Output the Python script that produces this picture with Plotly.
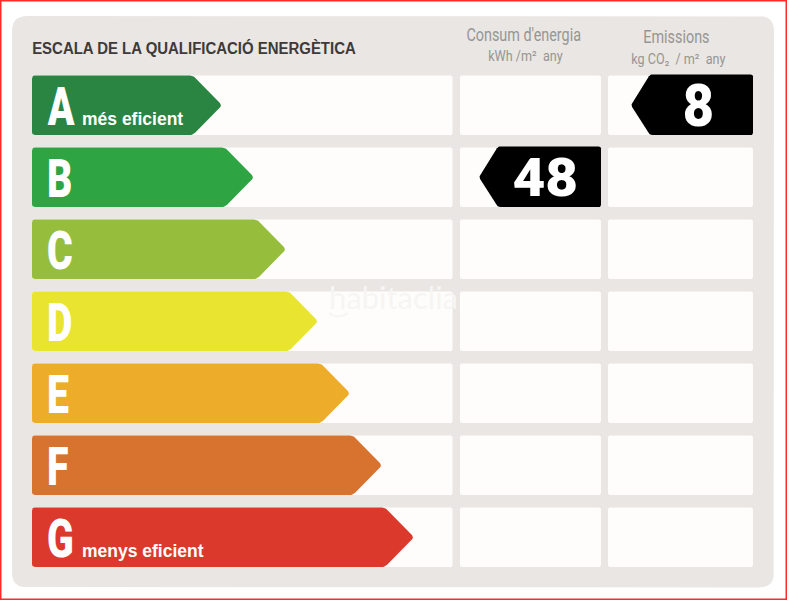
import json
import math
import plotly.graph_objects as go

# --- data ---
grades = ['A', 'B', 'C', 'D', 'E', 'F', 'G']
grade_colors = ['#2a8543', '#2ea443', '#96be3c', '#e9e42f', '#eeac2b', '#d8722f', '#dc392d']
arrow_ends = [221, 253, 285, 317, 349, 381, 413]
grade_notes = {'A': 'més eficient', 'G': 'menys eficient'}

consum_grade = 'B'
consum_value = '48'
emissions_grade = 'A'
emissions_value = '8'

# --- layout constants ---
PANEL = '#e9e6e3'
CELL = '#fefdfb'
ROW_TOP = 75.5
ROW_H = 59.5
ROW_STEP = 72
ARROW_LEFT = 32
HEAD = 29
TAG_HEAD = 19
COLUMNS = [(32, 452.5), (460, 601), (608, 753)]
FONT = 'Roboto'
SANS = 'Liberation Sans'
HEADER_GREY = '#979593'

squeezed = {}  # annotation index -> [x scale, transform origin]


def rounded(points, r):
    # polygon with its corners softened, so the fill doesn't look too sharp
    xs, ys = [], []
    n = len(points)
    for i, (x, y) in enumerate(points):
        px, py = points[i - 1]
        nx, ny = points[(i + 1) % n]
        d1 = math.hypot(px - x, py - y)
        d2 = math.hypot(nx - x, ny - y)
        ax, ay = x + (px - x) * r / d1, y + (py - y) * r / d1
        bx, by = x + (nx - x) * r / d2, y + (ny - y) * r / d2
        for k in range(7):
            t = k / 6
            xs.append((1 - t) ** 2 * ax + 2 * t * (1 - t) * x + t ** 2 * bx)
            ys.append((1 - t) ** 2 * ay + 2 * t * (1 - t) * y + t ** 2 * by)
    xs.append(xs[0])
    ys.append(ys[0])
    return xs, ys


def add_poly(fig, points, color, r=2, name=''):
    xs, ys = rounded(points, r)
    fig.add_trace(go.Scatter(x=xs, y=ys, mode='lines', fill='toself', fillcolor=color,
                             line=dict(width=0, color=color), name=name,
                             hoverinfo='name' if name else 'skip', showlegend=False))


def box(x0, y0, x1, y1):
    return [(x0, y0), (x1, y0), (x1, y1), (x0, y1)]


def add_text(fig, x, y, text, size, color, family=FONT, anchor='center', weight=400, squeeze=None):
    if squeeze:
        # no condensed face is installed, so narrow the text after drawing (see post_script)
        squeezed[len(fig.layout.annotations)] = [squeeze, 'left center' if anchor == 'left' else 'center']
    fig.add_annotation(x=x, y=y, text=text, showarrow=False, xanchor=anchor, yanchor='middle',
                       font=dict(size=size, color=color, family=family, weight=weight))


fig = go.Figure()

# grey card behind everything
add_poly(fig, box(12, 16, 774, 587.5), PANEL, r=15)

for i, grade in enumerate(grades):
    top = ROW_TOP + i * ROW_STEP
    bottom = top + ROW_H
    middle = (top + bottom) / 2

    for x0, x1 in COLUMNS:
        add_poly(fig, box(x0, top, x1, bottom), CELL, r=2)

    end = arrow_ends[i] + 1
    add_poly(fig, [(ARROW_LEFT, top), (end - HEAD, top), (end, middle), (end - HEAD, bottom), (ARROW_LEFT, bottom)],
             grade_colors[i], r=3, name=grade)

    add_text(fig, 45, middle + 2, grade, 53, 'white', anchor='left', weight=900, squeeze=0.74)
    if grade in grade_notes:
        add_text(fig, 80, top + 43, grade_notes[grade], 17.5, 'white', SANS, anchor='left', weight=700)

    # black tags for the two rated values
    if grade == consum_grade:
        x0, x1 = COLUMNS[1]
        add_poly(fig, [(x1, top - 1), (x1, bottom), (x0 + 19 + TAG_HEAD, bottom), (x0 + 19, middle), (x0 + 19 + TAG_HEAD, top - 1)],
                 'black', r=2, name='Consum')
        add_text(fig, 545.5, middle, consum_value, 54, 'white', weight=900, squeeze=1.05)
    if grade == emissions_grade:
        x0, x1 = COLUMNS[2]
        add_poly(fig, [(x1, top - 1), (x1, bottom), (x0 + 23 + TAG_HEAD, bottom), (x0 + 23, middle), (x0 + 23 + TAG_HEAD, top - 1)],
                 'black', r=2, name='Emissions')
        add_text(fig, 698.5, middle, emissions_value, 60, 'white', weight=900, squeeze=0.9)

# headers
add_text(fig, 30, 48, 'ESCALA DE LA QUALIFICACIÓ ENERGÈTICA', 17, '#3e3a39', SANS, anchor='left', weight=700, squeeze=0.88)
add_text(fig, 523, 34, "Consum d'energia", 18, HEADER_GREY, squeeze=0.8)
add_text(fig, 525, 56, 'kWh /m²  any', 14, HEADER_GREY, squeeze=0.9)
add_text(fig, 676, 36, 'Emissions', 18, HEADER_GREY, squeeze=0.8)
add_text(fig, 678, 59, 'kg CO₂  / m²  any', 14, HEADER_GREY, squeeze=0.9)

# faint watermark
add_text(fig, 393, 297, 'habitaclia', 31, '#f6f5f3', 'Lato')
fig.add_shape(type='path', path='M 329 313 Q 338 320 348 313', xref='x', yref='y',
              line=dict(color='#f6f5f3', width=2))

# red frame of the screenshot
fig.add_shape(type='rect', xref='paper', yref='paper', x0=0, y0=0, x1=1, y1=1,
              line=dict(color='#ff2a2a', width=3), fillcolor='rgba(0,0,0,0)')

fig.update_xaxes(range=[0, 787], visible=False, fixedrange=True)
fig.update_yaxes(range=[600, 0], visible=False, fixedrange=True)
fig.update_layout(width=787, height=600, margin=dict(l=0, r=0, t=0, b=0),
                  paper_bgcolor='white', plot_bgcolor='white', showlegend=False)

post = """
document.body.style.margin = '0';
var squeezed = %s;
document.querySelectorAll('.annotation').forEach(function (g) {
    var s = squeezed[g.getAttribute('data-index')];
    if (!s) return;
    var t = g.querySelector('text');
    t.style.transformBox = 'fill-box';
    t.style.transformOrigin = s[1];
    t.style.transform = 'scaleX(' + s[0] + ')';
});
""" % json.dumps(squeezed)

fig.write_html("out.html", post_script=post, config={'displayModeBar': False})
